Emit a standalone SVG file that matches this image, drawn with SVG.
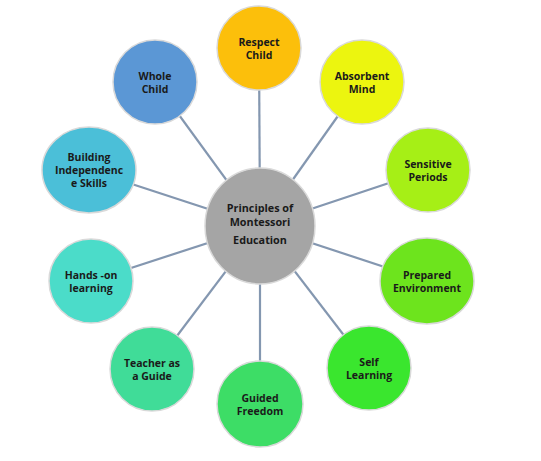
<svg xmlns="http://www.w3.org/2000/svg" width="541" height="461" viewBox="0 0 541 461">
<style>
.c{stroke:#d9d9d9;stroke-width:1.5}
.t{font-family:"Open Sans","Liberation Sans",sans-serif;font-weight:bold;font-size:10.5px;fill:#1a1a1a;text-anchor:middle}
.ct{font-size:10.8px}
#connectors line{stroke:#8497b0;stroke-width:2.2}
</style>
<rect width="541" height="461" fill="#ffffff"/>
<g id="connectors">
<line x1="260" y1="226" x2="259" y2="48"/>
<line x1="260" y1="226" x2="362" y2="82"/>
<line x1="260" y1="226" x2="428" y2="170"/>
<line x1="260" y1="226" x2="427" y2="281"/>
<line x1="260" y1="226" x2="369" y2="368"/>
<line x1="260" y1="226" x2="260" y2="404"/>
<line x1="260" y1="226" x2="152" y2="369"/>
<line x1="260" y1="226" x2="91" y2="281"/>
<line x1="260" y1="226" x2="89" y2="170"/>
<line x1="260" y1="226" x2="155" y2="82"/>
</g>
<g id="respect-child"><circle class="c" cx="259" cy="48" r="42" fill="#fcbf0b"/><text class="t" x="259" y="46">Respect</text><text class="t" x="259" y="59">Child</text></g>
<g id="absorbent-mind"><circle class="c" cx="362" cy="82" r="42" fill="#ecf50f"/><text class="t" x="362" y="80">Absorbent</text><text class="t" x="362" y="93">Mind</text></g>
<g id="sensitive-periods"><circle class="c" cx="428" cy="170" r="42" fill="#a6ef16"/><text class="t" x="428" y="168">Sensitive</text><text class="t" x="428" y="181">Periods</text></g>
<g id="prepared-environment"><ellipse class="c" cx="427" cy="281" rx="47" ry="43" fill="#6de41d"/><text class="t" x="427" y="279">Prepared</text><text class="t" x="427" y="292">Environment</text></g>
<g id="self-learning"><circle class="c" cx="369" cy="368" r="42" fill="#3ae62e"/><text class="t" x="369" y="366">Self</text><text class="t" x="369" y="379">Learning</text></g>
<g id="guided-freedom"><circle class="c" cx="260" cy="404" r="43" fill="#3ddd66"/><text class="t" x="260" y="402">Guided</text><text class="t" x="260" y="415">Freedom</text></g>
<g id="teacher-guide"><circle class="c" cx="152" cy="369" r="42" fill="#40dc98"/><text class="t" x="152" y="367">Teacher as</text><text class="t" x="152" y="380">a Guide</text></g>
<g id="hands-on"><circle class="c" cx="91" cy="281" r="42" fill="#4bdcc9"/><text class="t" x="91" y="279">Hands -on</text><text class="t" x="91" y="292">learning</text></g>
<g id="building-independence"><ellipse class="c" cx="89" cy="170" rx="47" ry="43" fill="#4bbfd8"/><text class="t" x="89" y="161">Building</text><text class="t" x="89" y="174">Independenc</text><text class="t" x="89" y="187">e Skills</text></g>
<g id="whole-child"><circle class="c" cx="155" cy="82" r="42" fill="#5b97d5"/><text class="t" x="155" y="80">Whole</text><text class="t" x="155" y="93">Child</text></g>
<g id="center"><ellipse class="c" cx="260" cy="226" rx="55" ry="58" fill="#a5a5a5"/><text class="t ct" x="260" y="212">Principles of</text><text class="t ct" x="260" y="226">Montessori</text><text class="t ct" x="260" y="244">Education</text></g>
</svg>
